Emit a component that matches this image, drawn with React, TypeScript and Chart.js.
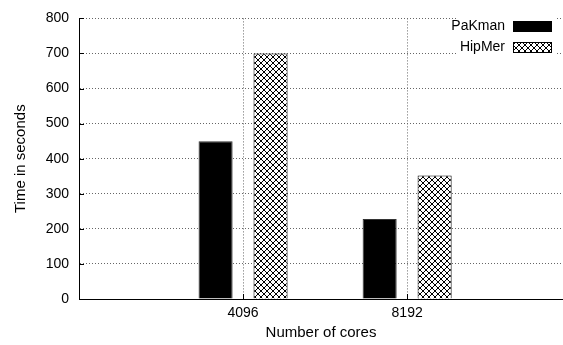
import React, { useEffect, useRef } from 'react';
import { Chart, registerables } from 'chart.js';

Chart.register(...registerables);

const categories = ['4096', '8192'];
const seriesNames = ['PaKman', 'HipMer'];
const pakmanTimes = [450, 228];
const hipmerTimes = [700, 352];
const yMin = 0;
const yMax = 800;
const yStep = 100;
const xTitle = 'Number of cores';
const yTitle = 'Time in seconds';

const FONT = '"Liberation Sans", Arial, Helvetica, sans-serif';

function makeCrossHatch(): CanvasPattern | string {
  const c = document.createElement('canvas');
  const s = 6;
  c.width = s;
  c.height = s;
  const g = c.getContext('2d');
  if (!g) return '#888';
  g.fillStyle = '#fff';
  g.fillRect(0, 0, s, s);
  g.strokeStyle = '#000';
  g.lineWidth = 1;
  g.beginPath();
  g.moveTo(-1, -1);
  g.lineTo(s + 1, s + 1);
  g.moveTo(s + 1, -1);
  g.lineTo(-1, s + 1);
  g.stroke();
  return g.createPattern(c, 'repeat') || '#888';
}

const innerTicks = {
  id: 'innerTicks',
  afterDatasetsDraw(chart: any) {
    const { ctx, chartArea, scales } = chart;
    ctx.save();
    ctx.strokeStyle = '#000';
    ctx.lineWidth = 1;
    ctx.beginPath();
    scales.y.ticks.forEach((t: any) => {
      const y = Math.round(scales.y.getPixelForValue(t.value)) + 0.5;
      ctx.moveTo(chartArea.left, y);
      ctx.lineTo(chartArea.left + 5, y);
    });
    scales.x.ticks.forEach((t: any) => {
      const x = Math.round(scales.x.getPixelForValue(t.value)) + 0.5;
      ctx.moveTo(x, chartArea.bottom);
      ctx.lineTo(x, chartArea.bottom - 5);
    });
    ctx.stroke();
    ctx.restore();
  },
};

const boxLegend = {
  id: 'boxLegend',
  afterDraw(chart: any) {
    const { ctx } = chart;
    ctx.save();
    ctx.fillStyle = '#fff';
    ctx.fillRect(456, 15, 101, 43);
    ctx.font = `14px ${FONT}`;
    ctx.textAlign = 'right';
    ctx.textBaseline = 'middle';
    const rows = [26.5, 47.5];
    chart.data.datasets.forEach((ds: any, i: number) => {
      const cy = rows[i];
      ctx.fillStyle = '#000';
      ctx.fillText(ds.label, 505, cy);
      ctx.fillStyle = ds.backgroundColor;
      ctx.fillRect(513.5, cy - 5, 38, 10);
      ctx.strokeStyle = '#000';
      ctx.lineWidth = 1;
      ctx.strokeRect(513.5, cy - 5, 38, 10);
    });
    ctx.restore();
  },
};

export default function App() {
  const ref = useRef<HTMLCanvasElement>(null);

  useEffect(() => {
    if (!ref.current) return;
    const hatch = makeCrossHatch();
    const toPoints = (vals: number[]) => vals.map((v, i) => ({ x: i + 1, y: v }));
    const chart = new Chart(ref.current, {
      type: 'bar',
      data: {
        datasets: [
          {
            label: seriesNames[0],
            data: toPoints(pakmanTimes) as any,
            backgroundColor: '#000',
            borderColor: '#333',
            borderWidth: 1,
            categoryPercentage: 0.67,
            barPercentage: 0.62,
          },
          {
            label: seriesNames[1],
            data: toPoints(hipmerTimes) as any,
            backgroundColor: hatch as any,
            borderColor: '#000',
            borderWidth: 1,
            categoryPercentage: 0.67,
            barPercentage: 0.62,
          },
        ],
      },
      options: {
        animation: false,
        responsive: false,
        maintainAspectRatio: false,
        devicePixelRatio: 1,
        layout: { padding: { top: 12, left: 0, right: 0, bottom: 0 } },
        plugins: { legend: { display: false }, tooltip: { enabled: false } },
        scales: {
          x: {
            type: 'linear',
            min: 0,
            max: 2.95,
            offset: false,
            afterBuildTicks: (scale: any) => {
              scale.ticks = categories.map((_, i) => ({ value: i + 1 }));
            },
            afterFit: (scale: any) => {
              scale.height = 46;
            },
            ticks: {
              callback: (_v: any, i: number) => categories[i],
              color: '#000',
              font: { family: FONT, size: 14 },
              padding: 6,
              maxRotation: 0,
              autoSkip: false,
            },
            grid: {
              color: '#666',
              lineWidth: 1,
              drawTicks: false,
              offset: false,
            },
            border: { display: true, color: '#000', width: 1, dash: [1, 2] },
            title: {
              display: true,
              text: xTitle,
              color: '#000',
              font: { family: FONT, size: 15 },
              padding: { top: 0, bottom: 3 },
            },
          } as any,
          y: {
            min: yMin,
            max: yMax,
            afterFit: (scale: any) => {
              scale.width = 79;
            },
            ticks: {
              stepSize: yStep,
              color: '#000',
              font: { family: FONT, size: 14 },
              padding: 10,
            },
            grid: {
              color: '#666',
              lineWidth: 1,
              drawTicks: false,
            },
            border: { display: true, color: '#000', width: 1, dash: [1, 2] },
            title: {
              display: true,
              text: yTitle,
              color: '#000',
              font: { family: FONT, size: 15 },
              padding: { top: 12, bottom: 0 },
            },
          } as any,
        },
      },
      plugins: [innerTicks, boxLegend],
    });
    return () => chart.destroy();
  }, []);

  return (
    <div style={{ position: 'fixed', left: 0, top: 0, width: 563, height: 345, background: '#fff' }}>
      <canvas ref={ref} width={563} height={345} style={{ display: 'block', width: 563, height: 345 }} />
    </div>
  );
}
